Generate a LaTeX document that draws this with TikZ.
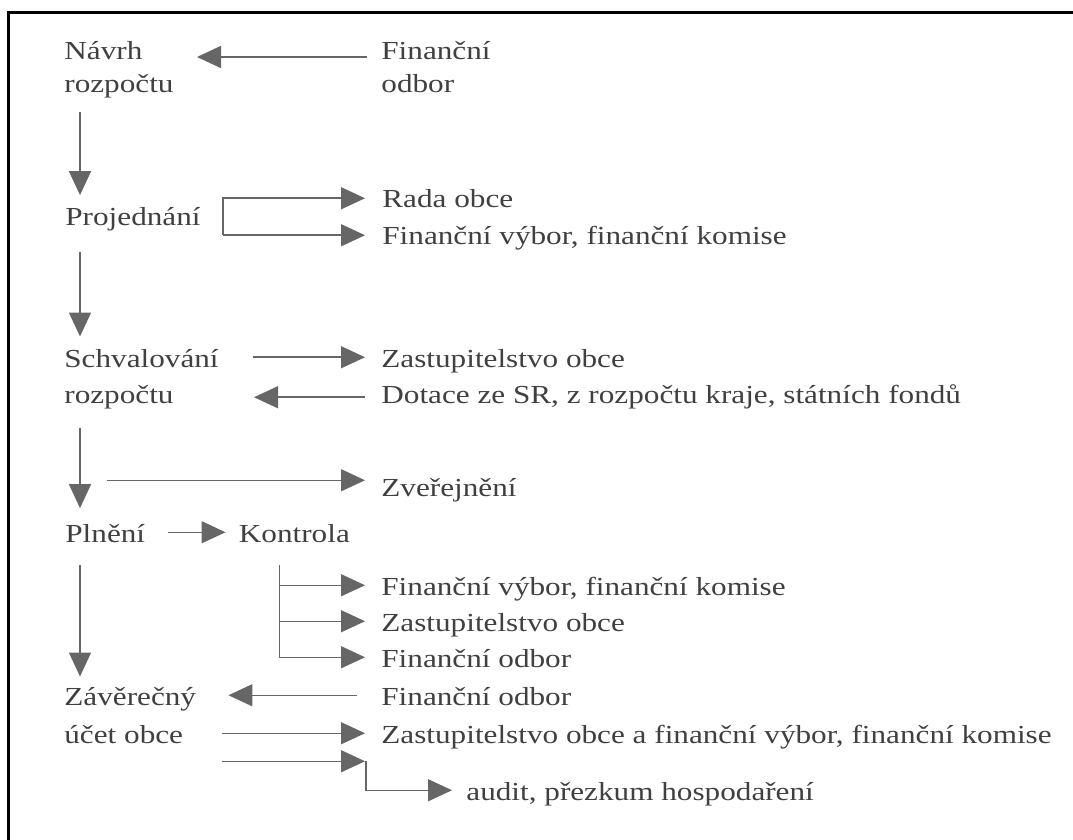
\documentclass[tikz,border=0pt]{standalone}
\usepackage{fontspec}
\setmainfont{Liberation Serif}[FakeStretch=1.2]
\usetikzlibrary{arrows.meta,positioning}
\tikzset{
  lbl/.style={inner sep=0pt, anchor=base west, font=\fontsize{13}{17.5}\selectfont, text=black!75, text height=9.75pt, text depth=0pt},
  mlbl/.style={inner sep=0pt, anchor=base west, align=left, font=\fontsize{13}{#1}\selectfont, text=black!75},
  mlbl/.default=18pt,
  arr/.style={-{Triangle[length=12pt, width=11pt]}, line width=0.75pt, draw=black!60},
  frame/.style={line width=1.5pt, draw=black},
}

\begin{document}
\begin{tikzpicture}[x=0.5pt, y=-0.5pt]

\fill[white] (0,0) rectangle (1073,840);
\useasboundingbox (0,0) rectangle (1073,840);
\draw[frame] (8.5,840) -- (8.5,13) -- (1073,13);

\node[mlbl=16.5pt] (navrh) at (64,93) {Návrh\\rozpočtu};
\node[mlbl=16.5pt] (fin) at (381,93) {Finanční\\odbor};

\node[lbl] (proj) at (65,226) {Projednání};
\node[lbl] (rada) at (382,208) {Rada obce};
\node[lbl] (fvk1) at (382,245) {Finanční výbor, finanční komise};

\node[mlbl] (schv) at (64,403) {Schvalování\\rozpočtu};
\node[lbl] (zast1) at (381,367) {Zastupitelstvo obce};
\node[lbl] (dot) at (381,403) {Dotace ze SR, z rozpočtu kraje, státních fondů};

\node[lbl] (zver) at (381,496) {Zveřejnění};
\node[lbl] (plneni) at (65,542) {Plnění};
\node[lbl, right=46.5pt of plneni] (kontr) {Kontrola};

\node[lbl] (fvk2) at (381,595) {Finanční výbor, finanční komise};
\node[lbl] (zast2) at (381,631) {Zastupitelstvo obce};
\node[lbl] (fo1) at (381,667) {Finanční odbor};

\node[mlbl=19pt] (zaver) at (64,743) {Závěrečný\\účet obce};
\node[lbl] (fo2) at (381,705) {Finanční odbor};
\node[lbl] (zast3) at (381,743) {Zastupitelstvo obce a finanční výbor, finanční komise};
\node[lbl] (audit) at (466,800) {audit, přezkum hospodaření};

\coordinate (pb) at ([xshift=11pt]proj.east);
\coordinate (kb) at ([shift={(41,23)}]kontr.south west);
\coordinate (zb) at ([xshift=13pt]zast3.west -| zaver.east);

\draw[arr] ([shift={(-14,-36)}]fin.base west) -- ([shift={(133,-36)}]navrh.base west);
\draw[arr] ([shift={(16,13)}]navrh.south west) -- ([shift={(15,-11)}]proj.north west);
\draw[arr, shorten >=8.5pt] (pb |- fvk1.west) -- (pb |- rada.west) -- (rada.west);
\draw[arr, shorten >=8.5pt] (pb |- fvk1.west) -- (fvk1.west);
\draw[arr] ([shift={(15,26)}]proj.south west) -- ([shift={(16,-12)}]schv.north west);
\draw[arr, shorten >=8pt] ([xshift=17pt]zast1.west -| schv.east) -- (zast1.west);
\draw[arr, shorten <=8pt] ([yshift=-2pt]dot.west) -- ([xshift=17.5pt, yshift=-2pt]dot.west -| schv.east);
\draw[arr] ([shift={(16,19)}]schv.south west) -- ([shift={(15,-14)}]plneni.north west);
\draw[arr, shorten >=8pt] ([xshift=21.5pt, yshift=3pt]zver.west -| schv.west) -- ([yshift=3pt]zver.west);
\draw[arr, shorten <=11pt, shorten >=6.5pt] (plneni) -- (kontr);
\draw[arr] ([shift={(15,23)}]plneni.south west) -- ([shift={(16,-10)}]zaver.north west);
\draw[arr, shorten >=8pt] (kb) |- (fo1.west);
\draw[arr, shorten >=8pt] (kb |- fvk2.west) -- (fvk2.west);
\draw[arr, shorten >=8pt] (kb |- zast2.west) -- (zast2.west);
\draw[arr, shorten <=12pt] (fo2.west) -- ([xshift=16pt]fo2.west -| zaver.east);
\draw[arr, shorten >=8pt] (zb) -- (zast3.west);
\draw[arr, shorten >=8pt] ([yshift=-14pt]zb) -- ([yshift=-14pt]zast3.west);
\draw[arr, shorten >=7pt] ([shift={(-15,28)}]zast3.west) |- (audit.west);

\end{tikzpicture}
\end{document}
